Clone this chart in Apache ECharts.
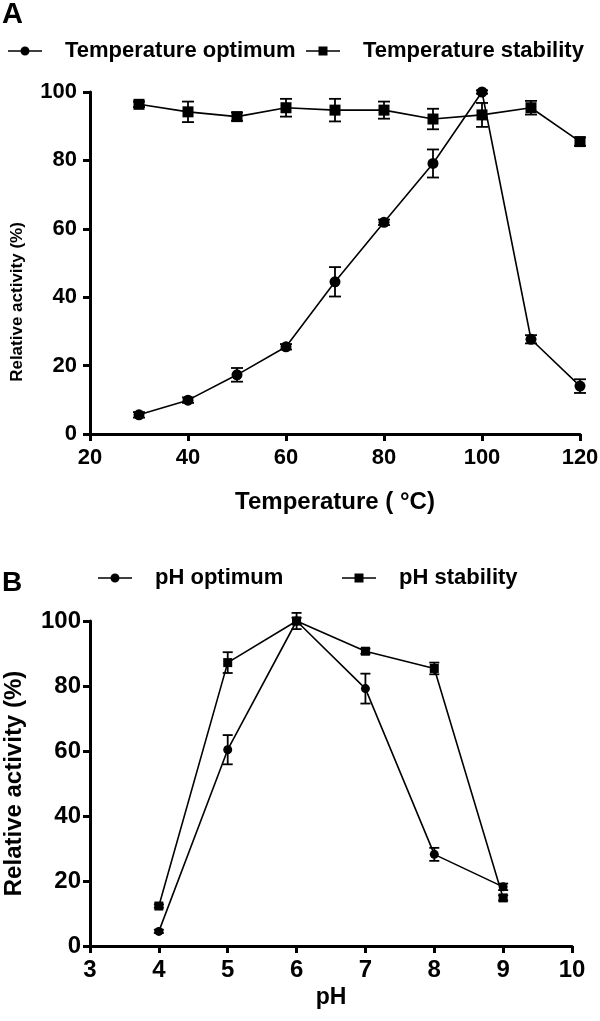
<!DOCTYPE html>
<html><head><meta charset="utf-8">
<script src="https://cdn.jsdelivr.net/npm/echarts@6/dist/echarts.min.js"></script>
<style>html,body{margin:0;padding:0;background:#fff}#c{width:600px;height:1021px}</style>
</head><body><div id="c"></div>
<script>
// Panel A: temperature
const tempX = [30, 40, 50, 60, 70, 80, 90, 100, 110, 120];
const tempOptMean = [5.6, 9.9, 17.3, 25.5, 44.5, 61.9, 79.1, 100, 27.7, 14.0];
const tempOptErr = [0.8, 0.8, 2.0, 0.8, 4.3, 0.8, 4.1, 0.5, 1.2, 2.0];
const tempStabMean = [96.4, 94.2, 92.8, 95.4, 94.7, 94.7, 92.1, 93.3, 95.4, 85.5];
const tempStabErr = [0.8, 3.0, 1.2, 2.6, 3.3, 2.5, 3.0, 3.5, 2.0, 1.2];
// Panel B: pH
const phX = [4, 5, 6, 7, 8, 9];
const phOptMean = [4.5, 60.4, 100, 79.2, 28.2, 18.2];
const phOptErr = [0.5, 4.5, 2.5, 4.6, 2.0, 1.0];
const phStabMean = [12.3, 87.2, 100, 90.7, 85.4, 14.8];
const phStabErr = [0.5, 3.2, 1.0, 0.8, 1.8, 0.8];

const FONT = '"Liberation Sans", Arial, Helvetica, sans-serif';
const ICON_CIRCLE = 'path://M0,4.25H34V5.75H0Z M17,0.5A4.5,4.5,0,1,1,17,9.5A4.5,4.5,0,1,1,17,0.5Z';
const ICON_SQUARE = 'path://M0,4.25H34V5.75H0Z M12.5,0.5H21.5V9.5H12.5Z';

function pairs(xs, ys) { return xs.map((x, i) => [x, ys[i]]); }
function errData(xs, m, e) { return xs.map((x, i) => [x, m[i] - e[i], m[i] + e[i]]); }
function errRender(capHalf, lw) {
  return function (params, api) {
    const x = api.value(0), lo = api.value(1), hi = api.value(2);
    const a = api.coord([x, lo]), b = api.coord([x, hi]);
    const st = { stroke: '#000', lineWidth: lw, fill: null };
    return { type: 'group', children: [
      { type: 'line', shape: { x1: a[0], y1: a[1], x2: b[0], y2: b[1] }, style: st },
      { type: 'line', shape: { x1: a[0] - capHalf, y1: a[1], x2: a[0] + capHalf, y2: a[1] }, style: st },
      { type: 'line', shape: { x1: b[0] - capHalf, y1: b[1], x2: b[0] + capHalf, y2: b[1] }, style: st }
    ]};
  };
}
function axisCommon(fs, margin) {
  return {
    axisLine: { show: true, onZero: false, lineStyle: { color: '#000', width: 3 } },
    axisTick: { show: true, length: 7, lineStyle: { color: '#000', width: 3 } },
    splitLine: { show: false },
    axisLabel: { color: '#000', fontWeight: 'bold', fontSize: fs, fontFamily: FONT, margin: margin }
  };
}
function legendItem(name, icon, left, top) {
  return {
    left: left, top: top, padding: 0, itemWidth: 34, itemHeight: 10,
    data: [{ name: name, icon: icon }],
    textStyle: { color: '#000', fontWeight: 'bold', fontSize: 22, fontFamily: FONT, padding: [0, 0, 0, 18] }
  };
}

const chart = echarts.init(document.getElementById('c'), null, { renderer: 'canvas' });
chart.setOption({
  backgroundColor: '#fff',
  animation: false,
  title: [
    { text: 'A', left: 2, top: 0, padding: 0, textStyle: { fontSize: 29, fontWeight: 'bold', fontFamily: FONT, color: '#000' } },
    { text: 'B', left: 2, top: 569, padding: 0, textStyle: { fontSize: 28, fontWeight: 'bold', fontFamily: FONT, color: '#000' } }
  ],
  legend: [
    legendItem('Temperature optimum', ICON_CIRCLE, 8, 40),
    legendItem('Temperature stability', ICON_SQUARE, 306, 40),
    legendItem('pH optimum', ICON_CIRCLE, 98, 567),
    legendItem('pH stability', ICON_SQUARE, 342, 567)
  ],
  grid: [
    { left: 90, right: 20, top: 92, height: 342, containLabel: false, outerBoundsMode: 'none' },
    { left: 90, right: 28, top: 621, height: 325, containLabel: false, outerBoundsMode: 'none' }
  ],
  xAxis: [
    Object.assign(axisCommon(22, 13), {
      type: 'value', gridIndex: 0, min: 20, max: 120, interval: 20,
      name: 'Temperature ( °C)', nameLocation: 'middle', nameGap: 56,
      nameTextStyle: { color: '#000', fontWeight: 'bold', fontSize: 24, fontFamily: FONT }
    }),
    Object.assign(axisCommon(24, 12), {
      type: 'value', gridIndex: 1, min: 3, max: 10, interval: 1,
      name: 'pH', nameLocation: 'middle', nameGap: 40,
      nameTextStyle: { color: '#000', fontWeight: 'bold', fontSize: 23, fontFamily: FONT }
    })
  ],
  yAxis: [
    Object.assign(axisCommon(22, 13), {
      type: 'value', gridIndex: 0, min: 0, max: 100, interval: 20,
      name: 'Relative activity (%)', nameLocation: 'middle', nameGap: 64,
      nameTextStyle: { color: '#000', fontWeight: 'bold', fontSize: 17, fontFamily: FONT, padding: [0, 78, 0, 0] }
    }),
    Object.assign(axisCommon(24, 9), {
      type: 'value', gridIndex: 1, min: 0, max: 100, interval: 20,
      name: 'Relative activity (%)', nameLocation: 'middle', nameGap: 64,
      nameTextStyle: { color: '#000', fontWeight: 'bold', fontSize: 24, fontFamily: FONT }
    })
  ],
  series: [
    { type: 'custom', name: 'tempOptErr', xAxisIndex: 0, yAxisIndex: 0, renderItem: errRender(6, 1.8),
      data: errData(tempX, tempOptMean, tempOptErr), encode: { x: 0, y: [1, 2] }, z: 1, silent: true },
    { type: 'custom', name: 'tempStabErr', xAxisIndex: 0, yAxisIndex: 0, renderItem: errRender(6, 1.8),
      data: errData(tempX, tempStabMean, tempStabErr), encode: { x: 0, y: [1, 2] }, z: 1, silent: true },
    { type: 'line', name: 'Temperature optimum', xAxisIndex: 0, yAxisIndex: 0, data: pairs(tempX, tempOptMean),
      symbol: 'circle', symbolSize: 11, showAllSymbol: true, lineStyle: { color: '#000', width: 1.6 },
      itemStyle: { color: '#000' }, z: 3 },
    { type: 'line', name: 'Temperature stability', xAxisIndex: 0, yAxisIndex: 0, data: pairs(tempX, tempStabMean),
      symbol: 'rect', symbolSize: 11, showAllSymbol: true, lineStyle: { color: '#000', width: 1.6 },
      itemStyle: { color: '#000' }, z: 3 },
    { type: 'custom', name: 'phOptErr', xAxisIndex: 1, yAxisIndex: 1, renderItem: errRender(5, 1.8),
      data: errData(phX, phOptMean, phOptErr), encode: { x: 0, y: [1, 2] }, z: 1, silent: true },
    { type: 'custom', name: 'phStabErr', xAxisIndex: 1, yAxisIndex: 1, renderItem: errRender(5, 1.8),
      data: errData(phX, phStabMean, phStabErr), encode: { x: 0, y: [1, 2] }, z: 1, silent: true },
    { type: 'line', name: 'pH optimum', xAxisIndex: 1, yAxisIndex: 1, data: pairs(phX, phOptMean),
      symbol: 'circle', symbolSize: 9, showAllSymbol: true, lineStyle: { color: '#000', width: 1.6 },
      itemStyle: { color: '#000' }, z: 3 },
    { type: 'line', name: 'pH stability', xAxisIndex: 1, yAxisIndex: 1, data: pairs(phX, phStabMean),
      symbol: 'rect', symbolSize: 9, showAllSymbol: true, lineStyle: { color: '#000', width: 1.6 },
      itemStyle: { color: '#000' }, z: 3 }
  ]
});
</script>
</body></html>
